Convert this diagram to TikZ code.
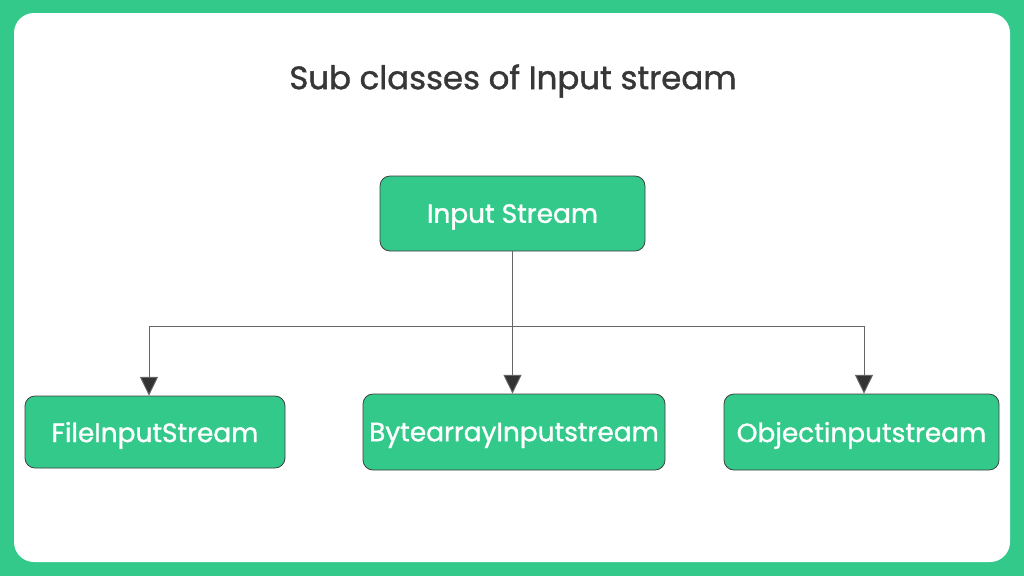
\documentclass[tikz,border=0pt]{standalone}
\usepackage{fontspec}
\setmainfont{Poppins}
\newfontfamily\medfont[FakeBold=1.2]{Poppins}
\usepackage{tikz}
\usetikzlibrary{arrows.meta,positioning,calc}
\definecolor{gfgGreen}{RGB}{50,201,138}
\definecolor{txtGray}{RGB}{55,55,55}
\tikzset{
  >=Stealth,
  box/.style={rectangle, draw=black!75, fill=gfgGreen, rounded corners=7.5pt, line width=0.6pt,
    text=white, inner sep=1pt, text depth=0pt, font=\medfont\fontsize{19.8}{22}\selectfont},
  tr/.style={-{Triangle[width=13.5pt,length=14pt,fill=black!80]}, draw=black!60, line width=0.7pt},
  ln/.style={draw=black!60, line width=0.7pt},
  ttl/.style={text=txtGray, font=\medfont\fontsize{24.3}{28}\selectfont}
}
\begin{document}
\begin{tikzpicture}[x=0.75pt,y=-0.75pt]

    % Frame
    \fill[gfgGreen] (0,0) rectangle (1024,576);
    \fill[white, rounded corners=15pt] (14,13) rectangle (1010,562);
    \useasboundingbox (0,0) rectangle (1024,576);

    % Title
    \node[ttl] (title) at (513,81) {Sub classes of Input stream};

    % Parent class
    \node[box, minimum width=198.75pt, minimum height=56.25pt] (in) at (512.5,213.5) {Input Stream};

    % Sub classes
    \node[box, minimum width=195pt, minimum height=54pt] (file) at (155,432) {FileInputStream};
    \node[box, minimum width=226.5pt, minimum height=57pt] (byte) at (514,432) {BytearrayInputstream};
    \node[box, minimum width=206.25pt, minimum height=57pt] (obj) at (861.5,432) {Objectinputstream};

    % Branch line
    \coordinate (fl) at (149,326);
    \coordinate (fr) at (864,326);
    \draw[ln] (fl) -- (fr);

    % Arrows
    \draw[tr] (in.south) -- (in.south |- byte.north);
    \draw[tr] (fl) -- (fl |- file.north);
    \draw[tr] (fr) -- (fr |- obj.north);

\end{tikzpicture}
\end{document}
